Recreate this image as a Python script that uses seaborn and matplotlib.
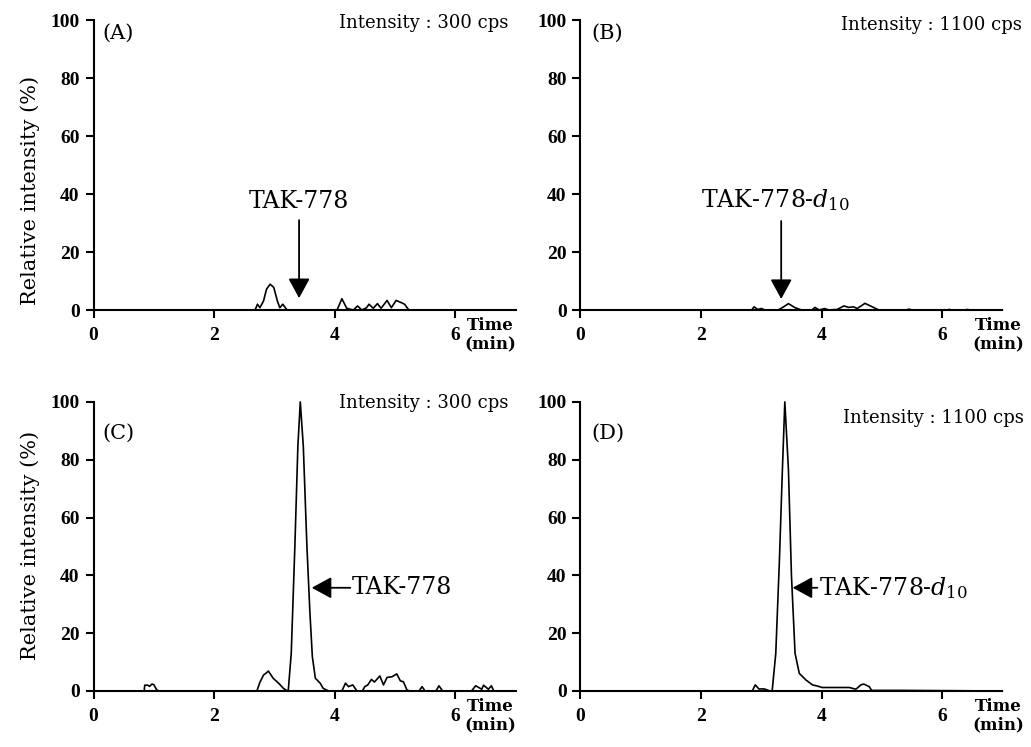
import numpy as np
import pandas as pd
import matplotlib
matplotlib.use("Agg")
import matplotlib.pyplot as plt
import seaborn as sns

# traces: time (min) and relative intensity (%)
a_time = [0, 2.68, 2.72, 2.76, 2.82, 2.87, 2.93, 2.99, 3.05, 3.09, 3.14, 3.21,
          4.04, 4.12, 4.20, 4.31, 4.38, 4.45, 4.53, 4.57, 4.64, 4.71, 4.77,
          4.87, 4.94, 5.02, 5.11, 5.16, 5.23, 7.0]
a_int = [0, 0, 2.0, 0.8, 3.1, 7.2, 8.9, 7.8, 3.1, 0.8, 2.0, 0,
         0, 3.9, 0.6, 0, 1.4, 0, 0.8, 2.0, 0.6, 2.2, 0.6,
         3.3, 0.8, 3.3, 2.5, 2.0, 0, 0]

b_time = [0, 2.84, 2.88, 2.94, 3.00, 3.06, 3.28, 3.37, 3.45, 3.56, 3.67,
          3.84, 3.89, 3.96, 4.05, 4.12, 4.26, 4.37, 4.45, 4.53, 4.59, 4.72,
          4.84, 4.95, 5.40, 5.45, 5.50, 6.08, 6.12, 6.16, 6.38, 6.42, 6.46, 7.0]
b_int = [0, 0, 1.1, 0.2, 0.5, 0, 0, 1.1, 2.2, 0.8, 0,
         0, 0.9, 0, 0.5, 0, 0.2, 1.4, 0.9, 1.1, 0.5, 2.3,
         1.1, 0, 0, 0.3, 0, 0, 0.2, 0, 0, 0.2, 0, 0]

c_time = [0, 0.84, 0.85, 0.90, 0.93, 0.97, 1.00, 1.05, 1.10,
          2.71, 2.76, 2.82, 2.87, 2.90, 2.98, 3.07, 3.15, 3.21,
          3.23, 3.28, 3.34, 3.39, 3.43, 3.48, 3.54, 3.59, 3.63, 3.68, 3.76, 3.81, 3.90,
          4.12, 4.18, 4.23, 4.30, 4.37,
          4.46, 4.50, 4.55, 4.61, 4.66, 4.75, 4.81, 4.87, 4.95, 5.03, 5.09, 5.14, 5.20, 5.25,
          5.40, 5.45, 5.50, 5.68, 5.73, 5.79,
          6.27, 6.34, 6.44, 6.47, 6.55, 6.60, 6.64, 7.0]
c_int = [0, 0, 2.0, 2.0, 1.6, 2.4, 2.2, 0.3, 0,
         0, 3.0, 5.5, 6.3, 6.9, 4.4, 2.7, 0.9, 0.1,
         0, 13, 50, 84.7, 100, 84.7, 50, 27, 11.9, 4.4, 2.7, 0.9, 0,
         0, 2.7, 1.5, 2.1, 0,
         0, 1.5, 2.1, 4.0, 3.1, 5.2, 2.1, 4.7, 4.9, 5.9, 3.5, 3.2, 0.3, 0,
         0, 1.5, 0, 0, 1.8, 0,
         0, 1.8, 0.6, 2.0, 0.6, 1.8, 0, 0]

d_time = [0, 2.85, 2.90, 2.96, 3.05, 3.13, 3.18, 3.24, 3.30, 3.35, 3.39, 3.45,
          3.50, 3.56, 3.63, 3.74, 3.85, 3.93, 4.01, 4.46, 4.57, 4.65, 4.70,
          4.79, 4.83, 5.01, 5.28, 7.0]
d_int = [0, 0, 2.1, 0.7, 0.7, 0.1, 0, 13, 45, 76.6, 100, 76.6,
         40, 13, 6.1, 3.8, 2.1, 1.7, 1.2, 1.2, 0.6, 2.1, 2.4,
         1.5, 0.2, 0.2, 0.2, 0]

panel_labels = ["(A)", "(B)", "(C)", "(D)"]
intensity_labels = ["Intensity : 300 cps", "Intensity : 1100 cps",
                    "Intensity : 300 cps", "Intensity : 1100 cps"]
y_ticks = [0, 20, 40, 60, 80, 100]
x_ticks = [0, 2, 4, 6]

sns.set_style("ticks")
plt.rcParams["font.family"] = ["DejaVu Serif", "DejaVu Sans"]
plt.rcParams["mathtext.fontset"] = "dejavuserif"
plt.rcParams["text.color"] = "black"
plt.rcParams["xtick.color"] = "black"
plt.rcParams["ytick.color"] = "black"

fig = plt.figure(figsize=(10.31, 7.47), dpi=100)
fig.patch.set_facecolor("white")

positions = [
    [0.0907, 0.585, 0.4093, 0.388],
    [0.563, 0.585, 0.4093, 0.388],
    [0.0907, 0.075, 0.4093, 0.387],
    [0.563, 0.075, 0.4093, 0.387],
]
traces = [(a_time, a_int), (b_time, b_int), (c_time, c_int), (d_time, d_int)]
label_y = [0.955, 0.955, 0.893, 0.893]
intens_pos = [(0.983, 0.99), (1.045, 0.983), (0.983, 0.997), (1.05, 0.945)]
time_x = [0.94, 0.99, 0.94, 0.99]

tick_font = dict(family="Liberation Serif", weight="bold", size=14)

axes = []
for i in range(4):
    ax = fig.add_axes(positions[i])
    df = pd.DataFrame({"Time": traces[i][0], "Intensity": traces[i][1]})
    sns.lineplot(data=df, x="Time", y="Intensity", ax=ax, color="black",
                 linewidth=1.2, sort=False, estimator=None)
    for ln in ax.lines:
        ln.set_clip_on(False)
    ax.set_xlim(0, 7.0)
    ax.set_ylim(0, 100)
    ax.set_xticks(x_ticks)
    ax.set_yticks(y_ticks)
    ax.set_xticklabels([str(t) for t in x_ticks], fontdict=tick_font)
    ax.set_yticklabels([str(t) for t in y_ticks], fontdict=tick_font)
    ax.set_xlabel("")
    ax.set_ylabel("")
    sns.despine(ax=ax)
    for s in ["left", "bottom"]:
        ax.spines[s].set_linewidth(1.5)
        ax.spines[s].set_color("black")
    ax.tick_params(axis="both", width=1.5, length=6, color="black", pad=4)
    ax.tick_params(axis="x", pad=6)
    ax.text(0.02 if i % 2 == 0 else 0.025, label_y[i], panel_labels[i],
            transform=ax.transAxes, fontsize=15, ha="left", va="center")
    ax.text(intens_pos[i][0], intens_pos[i][1], intensity_labels[i],
            transform=ax.transAxes, fontsize=13, ha="right", va="center",
            clip_on=False)
    ax.text(time_x[i], -0.025, "Time\n(min)", transform=ax.transAxes,
            fontsize=12, fontweight="bold", ha="center", va="top",
            linespacing=1.1)
    axes.append(ax)

arrow_style = dict(arrowstyle="-|>,head_length=0.55,head_width=0.3",
                   color="black", lw=1.3, mutation_scale=22,
                   shrinkA=0, shrinkB=0)

# (A) vertical arrow
axes[0].annotate("", xy=(3.41, 4.1), xytext=(3.41, 31), arrowprops=arrow_style)
axes[0].text(3.41, 37.6, "TAK-778", fontsize=17, ha="center", va="center")
# (B) vertical arrow
axes[1].annotate("", xy=(3.33, 3.8), xytext=(3.33, 30.7), arrowprops=arrow_style)
axes[1].text(2.0, 38.0, r"TAK-778-$d_{10}$", fontsize=17, ha="left", va="center")
# (C) horizontal arrow
axes[2].annotate("", xy=(3.62, 35.7), xytext=(4.26, 35.7), arrowprops=arrow_style)
axes[2].text(4.28, 35.7, "TAK-778", fontsize=17, ha="left", va="center")
# (D) horizontal arrow
axes[3].annotate("", xy=(3.52, 35.7), xytext=(3.93, 35.7), arrowprops=arrow_style)
axes[3].text(3.95, 35.7, r"TAK-778-$d_{10}$", fontsize=17, ha="left", va="center")

fig.text(30 / 1031, 1 - 190 / 747, "Relative intensity (%)", rotation=90,
         fontsize=15, ha="center", va="center")
fig.text(30 / 1031, 1 - 545 / 747, "Relative intensity (%)", rotation=90,
         fontsize=15, ha="center", va="center")

fig.savefig("out.png", dpi=100)
